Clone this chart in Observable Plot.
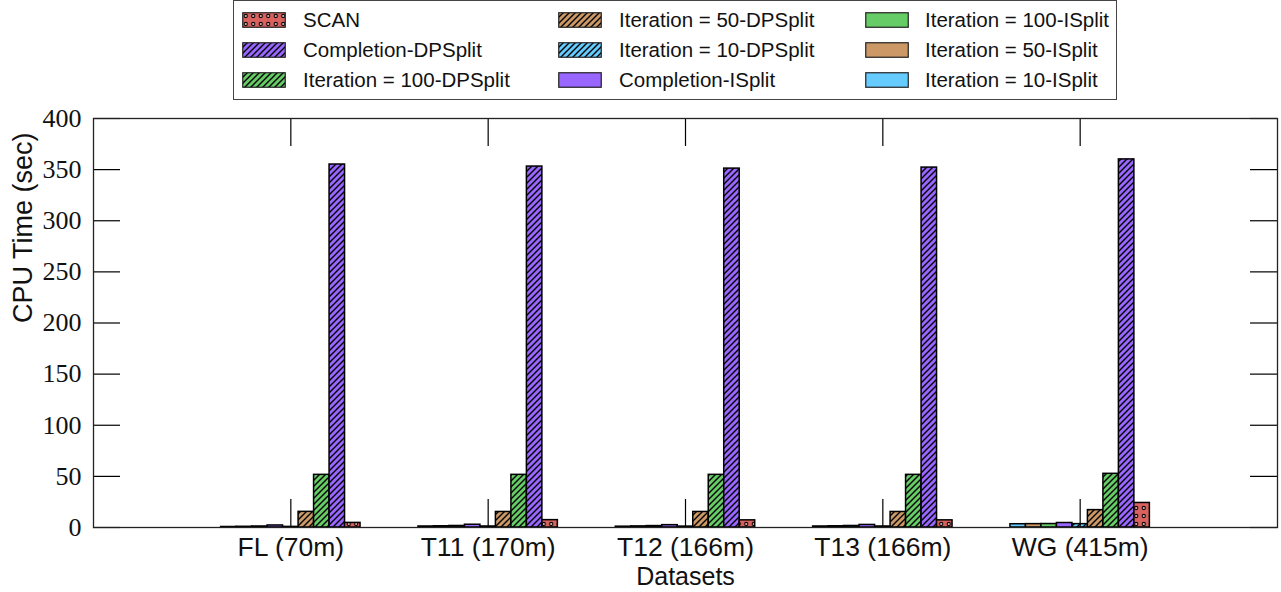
<!DOCTYPE html>
<html><head><meta charset="utf-8">
<script src="https://cdn.jsdelivr.net/npm/d3@7"></script>
<script src="https://cdn.jsdelivr.net/npm/@observablehq/plot@0.6"></script>
<style>
body{margin:0;background:#fff;font-family:"Liberation Sans",Arial,sans-serif;}
#legend{position:relative;width:1281px;height:104px;}
#legend .box{position:absolute;left:233px;top:0;width:884px;height:100px;border:1px solid #444;box-sizing:border-box;}
#legend .item{position:absolute;height:30px;display:flex;align-items:center;font-size:20.5px;color:#111;white-space:nowrap;}
#legend svg{display:block;flex:none;}
</style></head><body>
<svg id="defs" width="0" height="0" style="position:absolute"><defs></defs></svg>
<div id="legend"><div class="box"></div></div>
<div id="chart"></div>
<script>
// Categories
const datasets = ["FL (70m)", "T11 (170m)", "T12 (166m)", "T13 (166m)", "WG (415m)"];
const seriesNames = ["Iteration = 10-ISplit", "Iteration = 50-ISplit", "Iteration = 100-ISplit", "Completion-ISplit",
  "Iteration = 10-DPSplit", "Iteration = 50-DPSplit", "Iteration = 100-DPSplit", "Completion-DPSplit", "SCAN"];
// Series values (sec), one per dataset
const iter10ISplit   = [0.5, 1.0, 0.8, 1.0, 3.2];
const iter50ISplit   = [0.7, 1.2, 1.1, 1.2, 3.3];
const iter100ISplit  = [1.0, 1.5, 1.4, 1.5, 3.4];
const complISplit    = [2.0, 2.7, 2.3, 2.5, 4.4];
const iter10DPSplit  = [0.6, 1.0, 0.9, 1.0, 3.3];
const iter50DPSplit  = [15.3, 15.2, 15.2, 15.2, 17.0];
const iter100DPSplit = [51.5, 51.5, 51.5, 51.5, 52.5];
const complDPSplit   = [355, 353, 351, 352, 360];
const scan           = [4.5, 7.2, 7.0, 7.0, 24.0];
const seriesValues = [iter10ISplit, iter50ISplit, iter100ISplit, complISplit,
  iter10DPSplit, iter50DPSplit, iter100DPSplit, complDPSplit, scan];
// Styles
const seriesColors = ["#66ccff", "#cc9966", "#66cc66", "#9966ff", "#66ccff", "#cc9966", "#66cc66", "#9966ff", "#d9625e"];
const seriesKind = ["solid", "solid", "solid", "solid", "hatch", "hatch", "hatch", "hatch", "dots"];
const yTicks = [0, 50, 100, 150, 200, 250, 300, 350, 400];
const xTicks = [1, 2, 3, 4, 5];

// Patterns
const defs = d3.select("#defs defs");
seriesKind.forEach((kind, k) => {
  if (kind === "hatch") {
    const p = defs.append("pattern").attr("id", `hatch-${k}`).attr("patternUnits", "userSpaceOnUse")
      .attr("width", 6).attr("height", 6);
    p.append("rect").attr("width", 6).attr("height", 6).attr("fill", seriesColors[k]);
    p.append("path").attr("d", "M-1,1 l2,-2 M0,6 l6,-6 M5,7 l2,-2").attr("stroke", "#000").attr("stroke-width", 1.4);
  } else if (kind === "dots") {
    const p = defs.append("pattern").attr("id", `dots-${k}`).attr("patternUnits", "userSpaceOnUse")
      .attr("width", 7.5).attr("height", 8);
    p.append("rect").attr("width", 7.5).attr("height", 8).attr("fill", seriesColors[k]);
    p.append("circle").attr("cx", 3.75).attr("cy", 4).attr("r", 1.6).attr("fill", "#f3c9c6").attr("stroke", "#000").attr("stroke-width", 1.1);
  }
});
const fillFor = k => seriesKind[k] === "solid" ? seriesColors[k] : `url(#${seriesKind[k]}-${k})`;

// Legend (column-major, reverse series order)
const legendOrder = d3.range(seriesNames.length).reverse();
const colSwatch = [242, 558, 865], colText = [303, 619, 925], rowCenter = [20, 50, 80];
const legend = d3.select("#legend");
legendOrder.forEach((k, i) => {
  const col = Math.floor(i / 3), row = i % 3;
  const item = legend.append("div").attr("class", "item")
    .style("left", colSwatch[col] + "px").style("top", (rowCenter[row] - 15) + "px");
  const sw = item.append("svg").attr("width", 44).attr("height", 16);
  sw.append("rect").attr("x", 0.75).attr("y", 0.75).attr("width", 42.5).attr("height", 14.5)
    .attr("fill", fillFor(k)).attr("stroke", "#222").attr("stroke-width", 1.2);
  item.append("span").style("margin-left", (colText[col] - colSwatch[col] - 44) + "px").text(seriesNames[k]);
});

// Data rows
const rows = datasets.flatMap((d, i) => seriesNames.map((s, k) => ({dataset: d, g: i + 1, k, series: s, value: seriesValues[k][i]})));
const bw = 0.0785; // bar width in group units
const nS = seriesNames.length;

const plotW = 1281 - 93 - 4, plotH = 488 - 14 - 65;
const chart = Plot.plot({
  width: 1281, height: 488,
  marginTop: 14, marginBottom: 65, marginLeft: 93, marginRight: 4,
  x: {domain: [0, 6], axis: null},
  y: {domain: [0, 400], axis: null},
  marks: [
    ...seriesNames.map((s, k) => Plot.rect(rows.filter(r => r.k === k), {
      x1: r => r.g + (r.k - nS / 2) * bw,
      x2: r => r.g + (r.k + 1 - nS / 2) * bw,
      y1: 0, y2: "value",
      fill: fillFor(k), stroke: "#000", strokeWidth: 1.5
    })),
    Plot.tickY(yTicks, {y: d => d, insetRight: plotW - 27, stroke: "#000", strokeWidth: 1.2}),
    Plot.tickY(yTicks, {y: d => d, insetLeft: plotW - 27, stroke: "#000", strokeWidth: 1.2}),
    Plot.tickX(xTicks, {x: d => d, insetBottom: plotH - 28, stroke: "#000", strokeWidth: 1.2}),
    Plot.tickX(xTicks, {x: d => d, insetTop: plotH - 28, stroke: "#000", strokeWidth: 1.2}),
    Plot.frame({stroke: "#222", strokeWidth: 1.3}),
    Plot.text(yTicks, {y: d => d, text: d => String(d), frameAnchor: "left", dx: -12, textAnchor: "end",
      fontFamily: "Liberation Serif, serif", fontSize: 26, fill: "#111"}),
    Plot.text(xTicks, {x: d => d, text: d => datasets[d - 1], frameAnchor: "bottom", dy: 28,
      fontFamily: "Liberation Sans, Arial, sans-serif", fontSize: 26.5, fill: "#111"}),
    Plot.text(["Datasets"], {frameAnchor: "bottom", dy: 57, fontFamily: "Liberation Sans, Arial, sans-serif", fontSize: 25, fill: "#111"}),
    Plot.text(["CPU Time (sec)"], {frameAnchor: "left", dx: -70, rotate: -90, fontFamily: "Liberation Sans, Arial, sans-serif", fontSize: 27, fill: "#111"})
  ]
});
document.getElementById("chart").append(chart);
</script>
</body></html>
